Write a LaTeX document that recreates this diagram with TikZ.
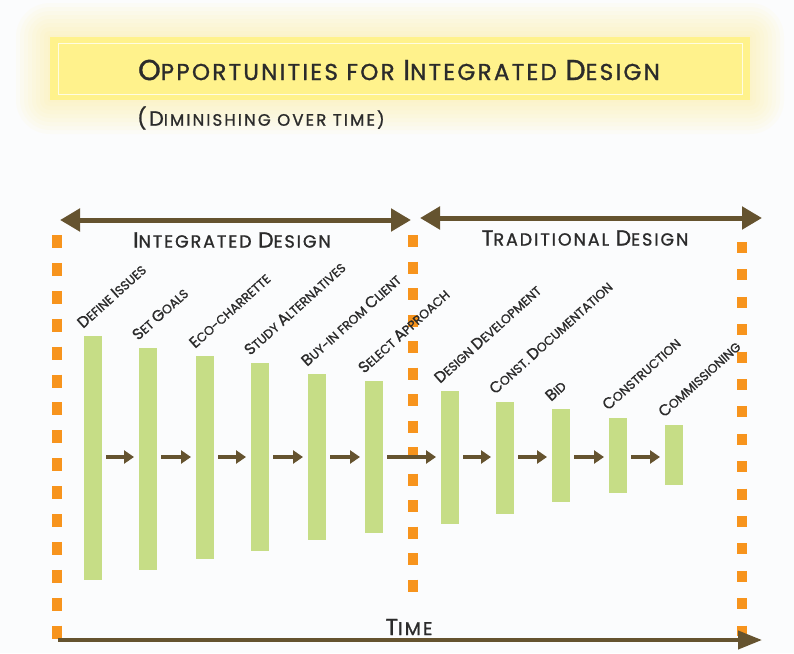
\documentclass[tikz,border=0pt]{standalone}
\usepackage{fontspec}
\setmainfont{Poppins}[FakeBold=1.2]
\usetikzlibrary{arrows.meta,calc}
\definecolor{bargreen}{HTML}{C6DD86}
\definecolor{dashorange}{HTML}{F7941D}
\definecolor{arrbrown}{HTML}{65532F}
\definecolor{bannerfill}{HTML}{FFF28C}
\definecolor{ink}{HTML}{2B2B2B}
\definecolor{bgc}{HTML}{FBFCFD}
\newfontfamily\medfont{Poppins}[FakeBold=1.2]
\newcommand\B[1]{\scalebox{1.25}{#1}}
\tikzset{
  x=1pt, y=-1pt,
  bar/.style={fill=bargreen, draw=none, minimum width=18pt, anchor=north west, inner sep=0pt, outer sep=0pt},
  lbl/.style={rotate=42, anchor=base west, font=\medfont\fontsize{12.5}{13}\selectfont, text=ink, inner sep=0pt},
  flow/.style={draw=arrbrown, line width=3.6pt, -{Triangle[width=13pt,length=10pt]}},
  span/.style={draw=arrbrown, line width=5pt, {Triangle[width=22pt,length=20pt]}-{Triangle[width=22pt,length=20pt]}},
  timearrow/.style={draw=arrbrown, line width=4pt, -{Triangle[width=18pt,length=24pt]}},
  orangedash/.style={draw=dashorange, line width=10pt},
  head/.style={font=\medfont\fontsize{17.5}{18}\selectfont, text=ink, inner sep=0pt},
}
\begin{document}
\begin{tikzpicture}
\useasboundingbox (0,0) rectangle (794,653);
\fill[bgc] (0,0) rectangle (794,653);
% banner glow
\foreach \g in {34,30,...,2}{
  \fill[bannerfill, opacity=0.06, rounded corners=\g pt] (50-\g,37-\g) rectangle (750+\g,100+\g);
}
\node[fill=bannerfill, draw=none, minimum width=700pt, minimum height=63pt, inner sep=0pt] (banner) at (400,68.5) {};
\draw[white!75!bannerfill, line width=1pt] (58,43) rectangle (742,94);
\node[text=ink, font=\medfont\fontsize{23}{24}\selectfont, inner sep=0pt] (title) at (399,70)
  {\addfontfeatures{LetterSpace=10}\B{O}PPORTUNITIES FOR \B{I}NTEGRATED \B{D}ESIGN};
\node[text=ink, font=\medfont\fontsize{16.5}{17}\selectfont, inner sep=0pt, anchor=west] (sub) at (137,118)
  {\addfontfeatures{LetterSpace=13}\B{(D}IMINISHING OVER TIME)};

% dashed orange lines
\coordinate (L1) at (57,235); \coordinate (L2) at (57,640);
\coordinate (M1) at (413,235); \coordinate (M2) at (413,592);
\coordinate (R1) at (742,242); \coordinate (R2) at (742,636);
\draw[orangedash, dash pattern=on 13pt off 14.9pt] (L1) -- (L2);
\draw[orangedash, dash pattern=on 12pt off 14.5pt] (M1) -- (M2);
\draw[orangedash, dash pattern=on 11pt off 16.4pt] (R1) -- (R2);

% top spans
\coordinate (tl1) at (60,220); \coordinate (tl2) at (411,220);
\coordinate (tr1) at (420,218); \coordinate (tr2) at (762,218);
\draw[span] (tl1) -- (tl2);
\draw[span] (tr1) -- (tr2);
\node[head] (int) at (232,240) {\addfontfeatures{LetterSpace=11}\B{I}NTEGRATED \B{D}ESIGN};
\node[head] (trad) at (585,238) {\addfontfeatures{LetterSpace=11}\B{T}RADITIONAL \B{D}ESIGN};

% bars
\node[bar, minimum height=244pt] (b1) at (84,336) {};
\node[bar, minimum height=222pt] (b2) at (139,348) {};
\node[bar, minimum height=203pt] (b3) at (196,356) {};
\node[bar, minimum height=188pt] (b4) at (251,363) {};
\node[bar, minimum height=166pt] (b5) at (308,374) {};
\node[bar, minimum height=152pt] (b6) at (365,381) {};
\node[bar, minimum height=133pt] (b7) at (441,391) {};
\node[bar, minimum height=112pt] (b8) at (496,402) {};
\node[bar, minimum height=93pt] (b9) at (552,409) {};
\node[bar, minimum height=75pt] (b10) at (609,418) {};
\node[bar, minimum height=60pt] (b11) at (665,425) {};

% labels
\node[lbl] (l1) at ($(b1.north west)+(-1,-7)$) {\B{D}EFINE \B{I}SSUES};
\node[lbl] (l2) at ($(b2.north west)+(-1,-7)$) {\B{S}ET \B{G}OALS};
\node[lbl] (l3) at ($(b3.north west)+(-1,-7)$) {\B{E}CO-CHARRETTE};
\node[lbl] (l4) at ($(b4.north west)+(-1,-7)$) {\B{S}TUDY \B{A}LTERNATIVES};
\node[lbl] (l5) at ($(b5.north west)+(-1,-7)$) {\B{B}UY-IN FROM \B{C}LIENT};
\node[lbl] (l6) at ($(b6.north west)+(-1,-7)$) {\B{S}ELECT \B{A}PPROACH};
\node[lbl] (l7) at ($(b7.north west)+(-1,-7)$) {\B{D}ESIGN \B{D}EVELOPMENT};
\node[lbl] (l8) at ($(b8.north west)+(-1,-7)$) {\B{C}ONST. \B{D}OCUMENTATION};
\node[lbl] (l9) at ($(b9.north west)+(-1,-7)$) {\B{B}ID};
\node[lbl] (l10) at ($(b10.north west)+(-1,-7)$) {\B{C}ONSTRUCTION};
\node[lbl] (l11) at ($(b11.north west)+(-1,-7)$) {\B{C}OMMISSIONING};

% flow arrows
\coordinate (ay) at (0,457);
\foreach \a/\b in {b1/b2,b2/b3,b3/b4,b4/b5,b5/b6,b6/b7,b7/b8,b8/b9,b9/b10,b10/b11}{
  \draw[flow] ($(\a.east |- ay)+(4,0)$) -- ($(\b.west |- ay)+(-5,0)$);
}

% time arrow
\coordinate (t1) at (58,640); \coordinate (t2) at (762,640);
\draw[timearrow] (t1) -- (t2);
\node[text=ink, font=\medfont\fontsize{18.5}{19}\selectfont, inner sep=0pt] (time) at (409,627) {\addfontfeatures{LetterSpace=12}\B{T}IME};
\end{tikzpicture}
\end{document}
